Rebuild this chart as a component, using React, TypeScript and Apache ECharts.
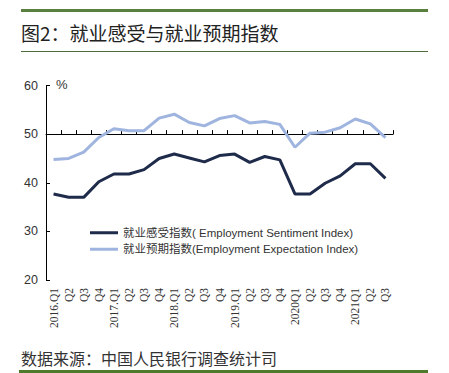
import React, { useEffect, useRef } from "react";
import * as echarts from "echarts";

const categories = [
  "2016.Q1", "Q2", "Q3", "Q4",
  "2017.Q1", "Q2", "Q3", "Q4",
  "2018.Q1", "Q2", "Q3", "Q4",
  "2019.Q1", "Q2", "Q3", "Q4",
  "2020Q1", "Q2", "Q3", "Q4",
  "2021Q1", "Q2", "Q3",
];

const sentiment = [
  37.7, 37.0, 37.0, 40.2,
  41.8, 41.8, 42.7, 45.0,
  45.9, 45.1, 44.3, 45.6,
  45.9, 44.2, 45.4, 44.7,
  37.7, 37.7, 39.9, 41.4,
  43.9, 43.9, 40.9,
];

const expectation = [
  44.8, 45.0, 46.3, 49.3,
  51.1, 50.7, 50.7, 53.3,
  54.1, 52.4, 51.7, 53.2,
  53.8, 52.3, 52.6, 52.0,
  47.3, 50.2, 50.4, 51.3,
  53.1, 52.1, 49.3,
];

const seriesNames = [
  "就业感受指数( Employment Sentiment Index)",
  "就业预期指数(Employment Expectation Index)",
];

const titleText = "图2：就业感受与就业预期指数";
const sourceText = "数据来源：中国人民银行调查统计司";

export default function App() {
  const ref = useRef<HTMLDivElement>(null);
  useEffect(() => {
    if (!ref.current) return;
    const chart = echarts.init(ref.current, undefined, { renderer: "svg" });
    const gridTop = 85.5;
    const gridBottom = 93;
    const gridH = 373 - gridTop - gridBottom;
    const axisOffset = -((50 - 20) / 40) * gridH;
    chart.setOption({
      animation: false,
      backgroundColor: "#ffffff",
      grid: { left: 46, right: 56, top: gridTop, bottom: gridBottom, containLabel: false },
      legend: {
        orient: "vertical",
        left: 90,
        top: 227,
        padding: 0,
        itemWidth: 28,
        itemHeight: 3,
        itemGap: 5,
        icon: "rect",
        textStyle: { fontSize: 11.5, color: "#333", fontFamily: "Liberation Sans, Noto Sans CJK SC" },
        data: seriesNames,
      },
      xAxis: [
        {
          type: "category",
          data: categories,
          boundaryGap: true,
          axisLine: { show: false },
          axisTick: { show: false },
          axisLabel: {
            rotate: 90,
            interval: 0,
            fontSize: 11.5,
            color: "#333",
            fontFamily: "Liberation Serif",
            margin: 8,
          },
        },
        {
          type: "category",
          data: categories,
          position: "bottom",
          offset: axisOffset,
          boundaryGap: true,
          axisLine: { show: true, lineStyle: { color: "#000", width: 1 } },
          axisTick: { show: true, inside: true, length: 4, interval: 0, lineStyle: { color: "#000" } },
          axisLabel: { show: false },
        },
      ],
      yAxis: {
        type: "value",
        min: 20,
        max: 60,
        interval: 10,
        axisLine: { show: true, lineStyle: { color: "#000", width: 1 } },
        axisTick: { show: true, inside: true, length: 4, lineStyle: { color: "#000" } },
        splitLine: { show: false },
        axisLabel: { fontSize: 12.5, color: "#333", fontFamily: "Liberation Sans", margin: 8 },
      },
      graphic: [
        { type: "rect", shape: { x: 21, y: 9, width: 407, height: 3 }, style: { fill: "#5b7f3f" } },
        {
          type: "text",
          left: 21,
          top: 23,
          style: { text: titleText, fontSize: 19, fill: "#222", fontFamily: "Noto Sans CJK SC" },
        },
        { type: "rect", shape: { x: 21, y: 51, width: 407, height: 1 }, style: { fill: "#4f6b3a" } },
        {
          type: "text",
          left: 56,
          top: 78,
          style: { text: "%", fontSize: 13, fill: "#333", fontFamily: "Liberation Sans" },
        },
        {
          type: "text",
          left: 21,
          top: 350,
          style: { text: sourceText, fontSize: 16, fill: "#333", fontFamily: "Noto Sans CJK SC" },
        },
        { type: "rect", shape: { x: 19, y: 370, width: 409, height: 3 }, style: { fill: "#4e7a2c" } },
      ],
      series: [
        {
          name: seriesNames[0],
          type: "line",
          data: sentiment,
          symbol: "none",
          lineStyle: { color: "#1f2b4a", width: 3 },
          itemStyle: { color: "#1f2b4a" },
        },
        {
          name: seriesNames[1],
          type: "line",
          data: expectation,
          symbol: "none",
          lineStyle: { color: "#9fb4de", width: 3 },
          itemStyle: { color: "#9fb4de" },
        },
      ],
    });
    return () => chart.dispose();
  }, []);
  return (
    <div
      ref={ref}
      style={{ position: "absolute", left: 0, top: 0, width: 449, height: 373 }}
    />
  );
}
